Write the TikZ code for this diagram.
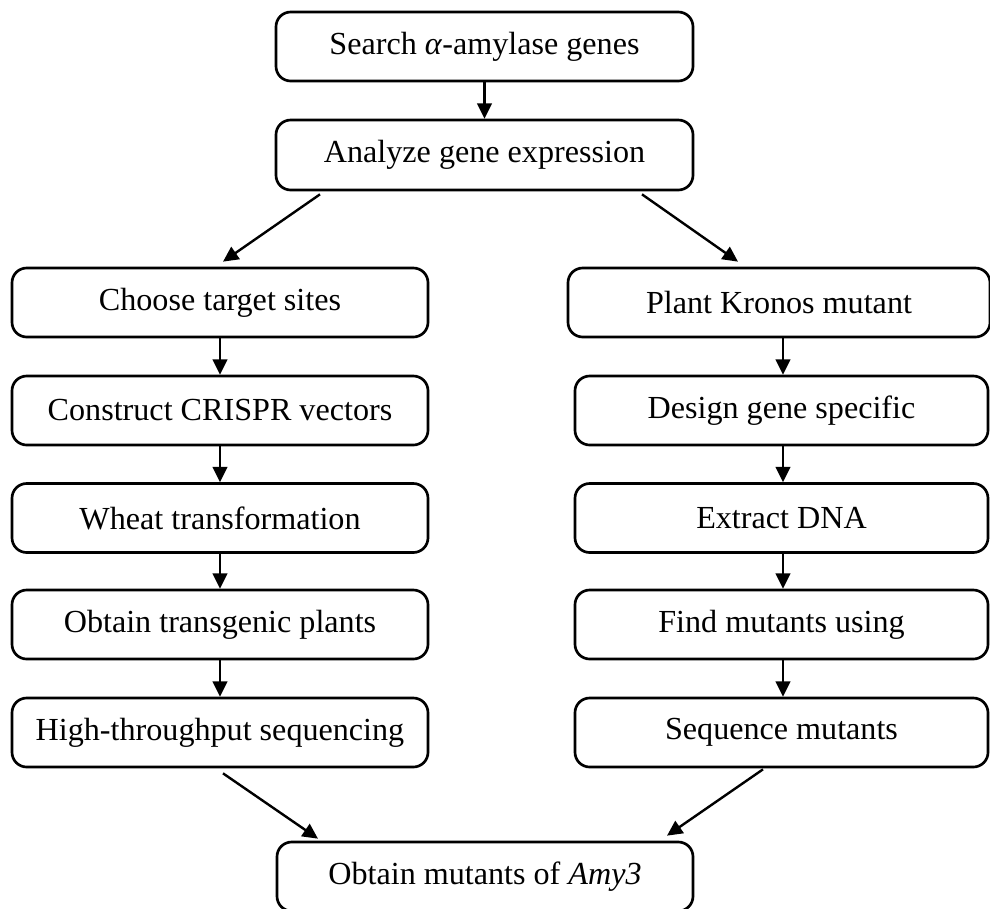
\documentclass[tikz,border=0pt]{standalone}
\usepackage{fontspec}
\setmainfont{Liberation Serif}
\usetikzlibrary{arrows.meta,calc}
\tikzset{
  stepbox/.style={draw=black, line width=2pt, rounded corners=11pt, inner sep=0pt,
    minimum height=51.75pt, font=\fontsize{24.1}{28}\selectfont, align=center},
  arr/.style={-{Triangle[length=11.5pt,width=11pt]}, line width=1.8pt}
}
\begin{document}
\begin{tikzpicture}[x=0.75pt,y=-0.75pt]
\useasboundingbox (0,0) rectangle (990,908);
\clip (0,0) rectangle (990,908);
% top
\node[stepbox, minimum width=312.75pt] (t1) at (484.5,46.5) {Search \textit{α}-amylase genes};
\node[stepbox, minimum width=312.75pt, minimum height=52.5pt] (t2) at (484.5,155) {Analyze gene expression};
% left column
\node[stepbox, minimum width=312pt] (l1) at (220,302.5) {Choose target sites};
\node[stepbox, minimum width=312pt] (l2) at (220,410.5) {Construct CRISPR vectors};
\node[stepbox, minimum width=312pt] (l3) at (220,518) {Wheat transformation};
\node[stepbox, minimum width=312pt] (l4) at (220,624.5) {Obtain transgenic plants};
\node[stepbox, minimum width=312pt] (l5) at (220,732.5) {High-throughput sequencing};
% right column
\node[stepbox, minimum width=316.5pt] (r1) at (779,302.5) {Plant Kronos mutant};
\node[stepbox, minimum width=309.75pt] (r2) at (781.5,410.5) {Design gene specific};
\node[stepbox, minimum width=309.75pt] (r3) at (781.5,518) {Extract DNA};
\node[stepbox, minimum width=309.75pt] (r4) at (781.5,624.5) {Find mutants using};
\node[stepbox, minimum width=309.75pt] (r5) at (781.5,732.5) {Sequence mutants};
% bottom
\node[stepbox, minimum width=312pt] (b) at (485,876.5) {Obtain mutants of \textit{Amy3}};
% connectors
\draw[arr] (t1.south) -- (t2.north);
\draw[arr] ($(t2.south)+(-164.5,3)$) -- ($(l1.north)+(3,-5)$);
\draw[arr] ($(t2.south)+(157.5,3)$) -- ($(r1.north)+(-41,-5)$);
\draw[arr] (l1.south) -- (l2.north);
\draw[arr] (l2.south) -- (l3.north);
\draw[arr] (l3.south) -- (l4.north);
\draw[arr] (l4.south) -- (l5.north);
\draw[arr] ($(r1.south)+(4,0)$) -- ($(r2.north)+(1.5,0)$);
\draw[arr] ($(r2.south)+(1.5,0)$) -- ($(r3.north)+(1.5,0)$);
\draw[arr] ($(r3.south)+(1.5,0)$) -- ($(r4.north)+(1.5,0)$);
\draw[arr] ($(r4.south)+(1.5,0)$) -- ($(r5.north)+(1.5,0)$);
\draw[arr] ($(l5.south)+(3,5)$) -- ($(b.north)+(-167,-2)$);
\draw[arr] ($(r5.south)+(-18.5,1)$) -- ($(b.north)+(182,-5)$);
\end{tikzpicture}
\end{document}
